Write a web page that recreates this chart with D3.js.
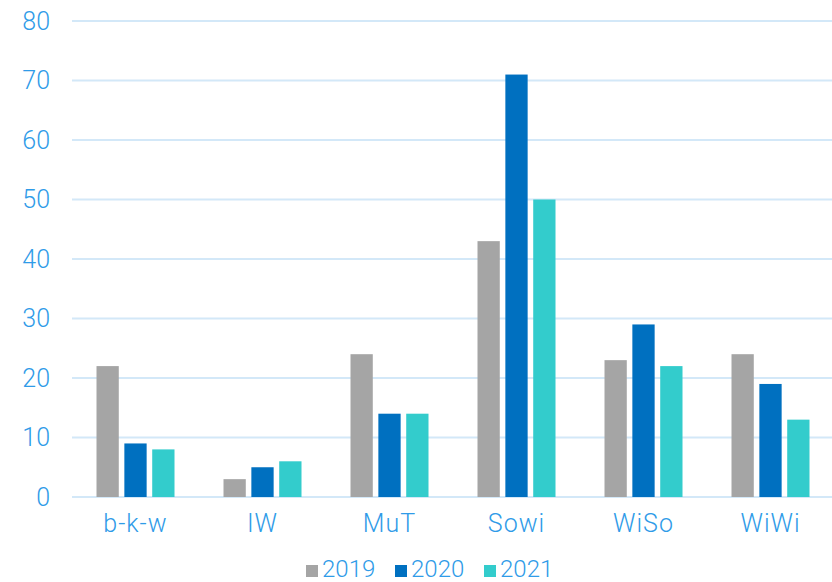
<!DOCTYPE html>
<meta charset="utf-8">
<head>
<style>
    body { margin: 0; background: #fff; }
    text { font-family: Roboto, "Liberation Sans", sans-serif; font-weight: 300; fill: #2f9be8; }
</style>
</head>
<body>
<div class="chart"></div>
<script src="https://d3js.org/d3.v7.min.js"></script>
<script>
var categories = ["b-k-w", "IW", "MuT", "Sowi", "WiSo", "WiWi"];
var years = ["2019", "2020", "2021"];
var values2019 = [22, 3, 24, 43, 23, 24];
var values2020 = [9, 5, 14, 71, 29, 19];
var values2021 = [8, 6, 14, 50, 22, 13];
var yTicks = [0, 10, 20, 30, 40, 50, 60, 70, 80];
var colors = ["#a5a5a5", "#0070c0", "#33cccc"];

var width = 832, height = 582;
var plotLeft = 72, plotRight = 834, plotTop = 21, plotBottom = 497;

var series = [values2019, values2020, values2021];

var svg = d3.select(".chart").append("svg")
    .attr("width", width)
    .attr("height", height);

var x = d3.scaleBand().domain(categories).range([plotLeft, plotRight]).paddingInner(0).paddingOuter(0);
var xs = d3.scaleBand().domain(years).range([24.5, x.bandwidth() - 24.5]).paddingInner(0.2);
var y = d3.scaleLinear().domain([0, 80]).range([plotBottom, plotTop]);

// gridlines
svg.selectAll(".grid").data(yTicks).enter().append("line")
    .attr("x1", plotLeft).attr("x2", width)
    .attr("y1", function (d) { return y(d); })
    .attr("y2", function (d) { return y(d); })
    .style("stroke", "#d3e8f8")
    .style("stroke-width", 2);

// y labels
svg.selectAll(".ylab").data(yTicks).enter().append("text")
    .attr("x", 50)
    .attr("y", function (d) { return y(d); })
    .attr("text-anchor", "end")
    .attr("dominant-baseline", "central")
    .style("font-size", "25px")
    .text(function (d) { return d; });

// bars
var groups = svg.selectAll(".grp").data(categories).enter().append("g")
    .attr("transform", function (d) { return "translate(" + x(d) + ",0)"; });

groups.selectAll("rect").data(function (d, i) {
    return years.map(function (yr, j) { return {year: yr, value: series[j][i], k: j}; });
}).enter().append("rect")
    .attr("x", function (d) { return xs(d.year); })
    .attr("width", xs.bandwidth())
    .attr("y", function (d) { return y(d.value); })
    .attr("height", function (d) { return plotBottom - y(d.value); })
    .style("fill", function (d) { return colors[d.k]; });

// x labels
svg.selectAll(".xlab").data(categories).enter().append("text")
    .attr("x", function (d) { return x(d) + x.bandwidth() / 2; })
    .attr("y", 532)
    .attr("text-anchor", "middle")
    .style("font-size", "25px")
    .style("letter-spacing", "1px")
    .text(function (d) { return d; });

// legend
var lg = svg.selectAll(".lg").data(years).enter().append("g")
    .attr("transform", function (d, i) { return "translate(" + (306 + i * 89) + ",565)"; });
lg.append("rect")
    .attr("width", 12).attr("height", 12)
    .style("fill", function (d, i) { return colors[i]; });
lg.append("text")
    .attr("x", 16).attr("y", 12)
    .style("font-size", "24px")
    .text(function (d) { return d; });
</script>
</body>
